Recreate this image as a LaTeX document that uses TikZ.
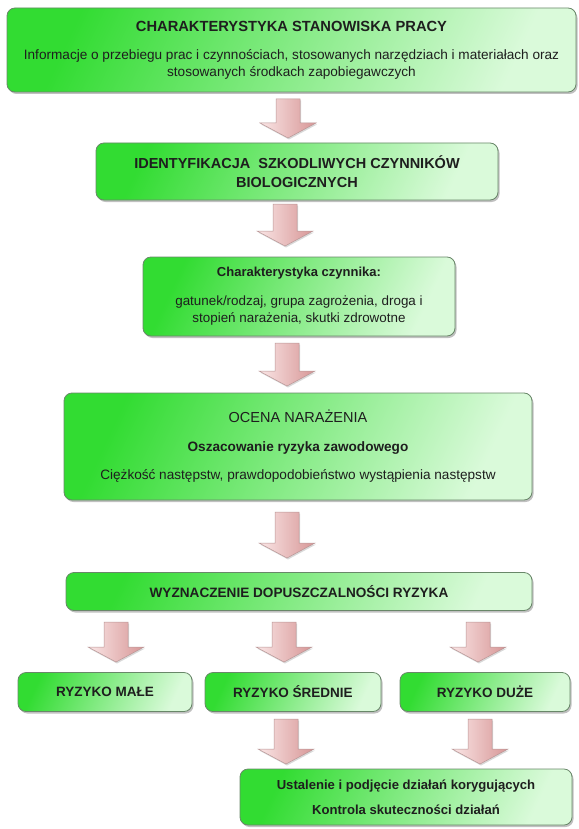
\documentclass[tikz,border=0pt]{standalone}
\usepackage{fontspec}
\setmainfont{Liberation Sans}
\usetikzlibrary{shadows,calc}
\definecolor{gA}{RGB}{50,220,50}
\definecolor{gB}{RGB}{218,250,218}
\definecolor{bord}{RGB}{105,135,105}
\definecolor{pA}{RGB}{250,230,230}
\definecolor{pB}{RGB}{215,150,150}
\definecolor{pbord}{RGB}{185,150,150}
\definecolor{txt}{RGB}{30,30,30}
\tikzset{
  box/.style={draw=bord, line width=0.8pt, rounded corners=8pt,
    left color=gA, right color=gB, shading angle=65,
    drop shadow={shadow xshift=1.5pt, shadow yshift=-2pt, opacity=0.45, fill=black!55},
    align=center, text=txt, inner sep=0pt},
  barrowstyle/.style={draw=pbord, line width=0.5pt, left color=pA, right color=pB,
    drop shadow={shadow xshift=1pt, shadow yshift=-1.5pt, opacity=0.3, fill=black!50}},
}
\newcommand\barrow[2]{%
  \path[barrowstyle] let \p1=(#1), \p2=(#2) in
    (\x1-12pt,\y1) -- (\x1+12pt,\y1) -- (\x1+12pt,\y2+15pt) -- (\x1+28pt,\y2+15pt)
    -- (\x1,\y2) -- (\x1-28pt,\y2+15pt) -- (\x1-12pt,\y2+15pt) -- cycle;}
\begin{document}
\begin{tikzpicture}[x=1pt,y=-1pt]
\useasboundingbox (0,0) rectangle (578,829);
% boxes
\node[box, minimum width=569pt, minimum height=84pt,
  font=\fontsize{13.6}{17}\selectfont] (b1) at (291.5,50)
  {{\bfseries\fontsize{14.7}{16}\selectfont CHARAKTERYSTYKA STANOWISKA PRACY}\\[11pt]
   Informacje o przebiegu prac i czynnościach, stosowanych narzędziach i materiałach oraz\\
   stosowanych środkach zapobiegawczych};
\node[box, minimum width=402pt, minimum height=57pt,
  font=\bfseries\fontsize{14.5}{19}\selectfont] (b2) at (297,171.5)
  {IDENTYFIKACJA \ SZKODLIWYCH CZYNNIKÓW\\BIOLOGICZNYCH};
\node[box, minimum width=312pt, minimum height=79pt,
  font=\fontsize{13.4}{17}\selectfont] (b3) at (299,296.5)
  {{\bfseries\fontsize{13}{16}\selectfont Charakterystyka czynnika:}\\[12pt]
   gatunek/rodzaj, grupa zagrożenia, droga i\\
   stopień narażenia, skutki zdrowotne};
\node[box, minimum width=468pt, minimum height=107pt,
  font=\fontsize{13.6}{16}\selectfont] (b4) at (298,446.5)
  {{\fontsize{14.5}{16}\selectfont OCENA NARAŻENIA}\\[13pt]
   {\bfseries Oszacowanie ryzyka zawodowego}\\[12pt]
   Ciężkość następstw, prawdopodobieństwo wystąpienia następstw};
\node[box, minimum width=466pt, minimum height=38pt,
  font=\bfseries\fontsize{13.6}{15}\selectfont] (b5) at (299,591.5)
  {WYZNACZENIE DOPUSZCZALNOŚCI RYZYKA};
\node[box, minimum width=174pt, minimum height=39pt,
  font=\bfseries\fontsize{13.5}{15}\selectfont] (r1) at (105,692)
  {RYZYKO MAŁE};
\node[box, minimum width=176pt, minimum height=39pt,
  font=\bfseries\fontsize{13.5}{15}\selectfont] (r2) at (293,692)
  {RYZYKO ŚREDNIE};
\node[box, minimum width=170pt, minimum height=39pt,
  font=\bfseries\fontsize{13.5}{15}\selectfont] (r3) at (485,692)
  {RYZYKO DUŻE};
\node[box, minimum width=332pt, minimum height=56pt,
  font=\bfseries\fontsize{13.1}{15}\selectfont] (b6) at (406,797)
  {Ustalenie i podjęcie działań korygujących\\[10pt]
   Kontrola skuteczności działań};
% arrow end points
\coordinate (a1t) at (288,99);  \coordinate (a1b) at (288,138);
\coordinate (a2t) at (285,204); \coordinate (a2b) at (285,246);
\coordinate (a3t) at (287,343); \coordinate (a3b) at (287,386);
\coordinate (a4t) at (287,512); \coordinate (a4b) at (287,558);
\coordinate (a5t) at (116,622); \coordinate (a5b) at (116,662);
\coordinate (a6t) at (284,622); \coordinate (a6b) at (284,662);
\coordinate (a7t) at (478,622); \coordinate (a7b) at (478,662);
\coordinate (a8t) at (286,719); \coordinate (a8b) at (286,764);
\coordinate (a9t) at (480,719); \coordinate (a9b) at (480,764);
\barrow{a1t}{a1b}
\barrow{a2t}{a2b}
\barrow{a3t}{a3b}
\barrow{a4t}{a4b}
\barrow{a5t}{a5b}
\barrow{a6t}{a6b}
\barrow{a7t}{a7b}
\barrow{a8t}{a8b}
\barrow{a9t}{a9b}
\end{tikzpicture}
\end{document}
